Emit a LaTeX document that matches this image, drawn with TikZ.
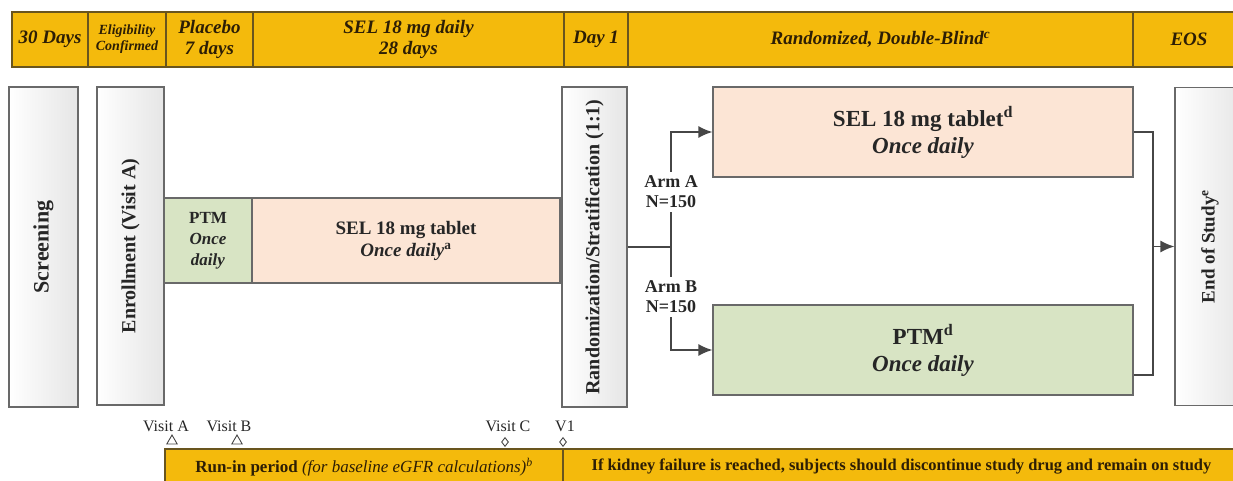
\documentclass[tikz,border=0pt]{standalone}
\usepackage{fontspec}
\setmainfont{Liberation Serif}
\usetikzlibrary{arrows.meta,shapes.geometric}
\definecolor{gold}{RGB}{244,186,12}
\definecolor{goldline}{RGB}{105,85,30}
\definecolor{goldtext}{RGB}{45,30,5}
\definecolor{peach}{RGB}{252,229,213}
\definecolor{sage}{RGB}{216,228,196}
\definecolor{boxline}{RGB}{105,105,105}
\definecolor{linkgray}{RGB}{70,70,70}
\tikzset{
	hdr/.style={draw=goldline, line width=1.2pt, fill=gold, text=goldtext, minimum height=55pt, inner sep=1pt, align=center, font=\fontsize{19}{21}\selectfont\bfseries\itshape},
	runbar/.style={draw=goldline, line width=1.2pt, fill=gold, text=goldtext, minimum height=36pt, inner sep=1pt, font=\fontsize{17}{19}\selectfont},
	greybox/.style={draw=boxline, line width=1.2pt, left color=white, right color=black!10, text=black!85, inner sep=2pt, font=\fontsize{20}{22}\selectfont\bfseries},
	drugb/.style={draw=boxline, line width=1.2pt, text=black!85, align=center, inner sep=2pt, font=\fontsize{19}{22}\selectfont\bfseries},
	arm/.style={align=center, inner sep=4pt, text=black!85, font=\fontsize{18}{20}\selectfont\bfseries},
	link/.style={draw=linkgray, line width=1.5pt},
	visit/.style={inner sep=0pt, text=black!85, font=\fontsize{16}{17}\selectfont},
	tri/.style={draw=linkgray, line width=0.9pt, regular polygon, regular polygon sides=3, minimum size=12pt, inner sep=0pt},
	dia/.style={draw=linkgray, line width=0.9pt, diamond, minimum width=7pt, minimum height=9pt, inner sep=0pt}
}
\begin{document}
\begin{tikzpicture}[x=1pt, y=-1pt, >={Latex[length=14pt,width=12pt]}]
	\useasboundingbox (0,0) rectangle (1233,481);
	\clip (0,0) rectangle (1233,481);
	% header bar
	\node (h1) at (50,39.5) [hdr, minimum width=76pt] {30 Days};
	\node (h2) at (127,39.5) [hdr, minimum width=78pt, font=\fontsize{14}{16}\selectfont\bfseries\itshape] {Eligibility\\Confirmed};
	\node (h3) at (209.5,39.5) [hdr, minimum width=87pt] {Placebo\\7 days};
	\node (h4) at (408.5,39.5) [hdr, minimum width=311pt] {SEL 18 mg daily\\28 days};
	\node (h5) at (596,39.5) [hdr, minimum width=64pt] {Day 1};
	\node (h6) at (880.5,39.5) [hdr, minimum width=505pt] {Randomized, Double-Blind\textsuperscript{c}};
	\node (h7) at (1189,39.5) [hdr, minimum width=112pt] {EOS};

	% screening, enrollment, run-in
	\node (scr) at (43.5,247) [greybox, rotate=90, minimum width=320pt, minimum height=69pt, font=\fontsize{22}{24}\selectfont\bfseries] {Screening};
	\node (enr) at (130.5,246) [greybox, rotate=90, minimum width=318pt, minimum height=67pt] {Enrollment (Visit A)};
	\node (ptm1) at (208,240.5) [drugb, fill=sage, minimum width=88pt, minimum height=85pt, font=\fontsize{17}{21}\selectfont\bfseries] {PTM\\\textit{Once}\\\textit{daily}};
	\node (sel1) at (406,240.5) [drugb, fill=peach, minimum width=308pt, minimum height=85pt] {SEL 18 mg tablet\\\textit{Once daily}\textsuperscript{a}};
	\node (rnd) at (594.5,247) [greybox, rotate=90, minimum width=320pt, minimum height=65pt] {Randomization/Stratification (1:1)};

	% randomized arms
	\node (sela) at (923,132) [drugb, fill=peach, minimum width=420pt, minimum height=90pt, font=\fontsize{23}{27}\selectfont\bfseries] {SEL 18 mg tablet\textsuperscript{d}\\\textit{Once daily}};
	\node (ptma) at (923,350) [drugb, fill=sage, minimum width=420pt, minimum height=90pt, font=\fontsize{23}{27}\selectfont\bfseries] {PTM\textsuperscript{d}\\\textit{Once daily}};
	\node (eos) at (1210,246.5) [greybox, rotate=90, minimum width=318pt, minimum height=70pt, font=\fontsize{19}{21}\selectfont\bfseries] {End of Study\textsuperscript{e}};
	\node (arma) at (671,192) [arm] {Arm A\\N=150};
	\node (armb) at (671,297) [arm] {Arm B\\N=150};
	\coordinate (split) at (671,247);
	\coordinate (join) at (1153,246.5);

	\draw [link] (rnd) -- (split);
	\draw [link] (split) -- (arma);
	\draw [link,->] (arma) |- (sela);
	\draw [link] (split) -- (armb);
	\draw [link,->] (armb) |- (ptma);
	\draw [link] (sela) -| (join);
	\draw [link] ([yshift=-25pt]ptma.east) -| (join);
	\draw [link,->] (join) -- (eos);

	% visits
	\node (va) at (166,426) [visit] {Visit A};
	\node (ma) at (172,441) [tri] {};
	\node (vb) at (229,426) [visit] {Visit B};
	\node (mb) at (237,441) [tri] {};
	\node (vc) at (508,426) [visit] {Visit C};
	\node (mc) at (505,442) [dia] {};
	\node (v1) at (565,426) [visit] {V1};
	\node (m1) at (563,442) [dia] {};

	% bottom bar
	\node (runin) at (364,467) [runbar, minimum width=398pt] {\textbf{Run-in period} \textit{(for baseline eGFR calculations)}\textsuperscript{\textit{b}}};
	\node (kid) at (901.5,467) [runbar, minimum width=677pt, font=\fontsize{16.5}{18}\selectfont\bfseries] {If kidney failure is reached, subjects should discontinue study drug and remain on study};
\end{tikzpicture}
\end{document}
